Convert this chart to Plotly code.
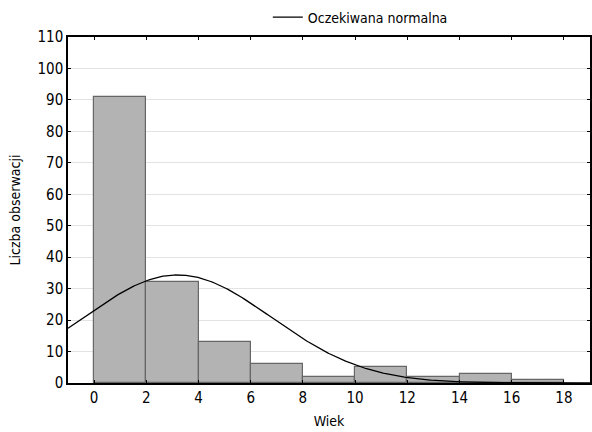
import numpy as np
import plotly.graph_objects as go

# Data
bin_starts = [0, 2, 4, 6, 8, 10, 12, 14, 16]
bin_width = 2
counts = [91, 32, 13, 6, 2, 5, 2, 3, 1]
x_ticks = [0, 2, 4, 6, 8, 10, 12, 14, 16, 18]
y_ticks = [0, 10, 20, 30, 40, 50, 60, 70, 80, 90, 100, 110]
norm_mean = 3.2
norm_sd = 3.6
n_obs = sum(counts)

FONT = "DejaVu Sans Condensed, Liberation Sans Narrow, sans-serif"

bar_x = [s + bin_width / 2 for s in bin_starts]
xs = np.linspace(-1, 19.5, 400)
ys = n_obs * bin_width / (norm_sd * np.sqrt(2 * np.pi)) * np.exp(-0.5 * ((xs - norm_mean) / norm_sd) ** 2)

fig = go.Figure()
fig.add_trace(go.Bar(
    x=bar_x, y=counts, width=[bin_width] * len(counts),
    marker=dict(color="#b3b3b3", line=dict(color="#666666", width=1.2)),
    showlegend=False, hoverinfo="x+y",
))
fig.add_trace(go.Scatter(
    x=xs, y=ys, mode="lines", name="Oczekiwana normalna",
    line=dict(color="black", width=1.3),
))

fig.update_layout(
    width=592, height=432,
    margin=dict(l=68, r=0, t=37, b=49),
    paper_bgcolor="white", plot_bgcolor="white",
    font=dict(family=FONT, size=15, color="black"),
    bargap=0,
    legend=dict(orientation="h", x=0.56, xanchor="center", y=1.01, yanchor="bottom",
                font=dict(size=14), itemwidth=30, bgcolor="rgba(0,0,0,0)"),
    xaxis=dict(
        range=[-1, 19], tickvals=x_ticks, ticktext=[str(v) for v in x_ticks],
        showline=True, linecolor="black", linewidth=1.5, mirror="ticks",
        ticks="inside", ticklen=3, tickcolor="black",
        showgrid=False, zeroline=False, tickfont=dict(size=15),
        title=dict(text="Wiek", font=dict(size=14), standoff=10),
    ),
    yaxis=dict(
        range=[0, 110], tickvals=y_ticks, ticktext=[str(v) for v in y_ticks],
        showline=True, linecolor="black", linewidth=1.5, mirror="ticks",
        ticks="inside", ticklen=3, tickcolor="black",
        showgrid=True, gridcolor="#e3e3e3", gridwidth=1, zeroline=False,
        tickfont=dict(size=15),
        title=dict(text="Liczba obserwacji", font=dict(size=14), standoff=14),
    ),
)

fig.write_html("out.html")
